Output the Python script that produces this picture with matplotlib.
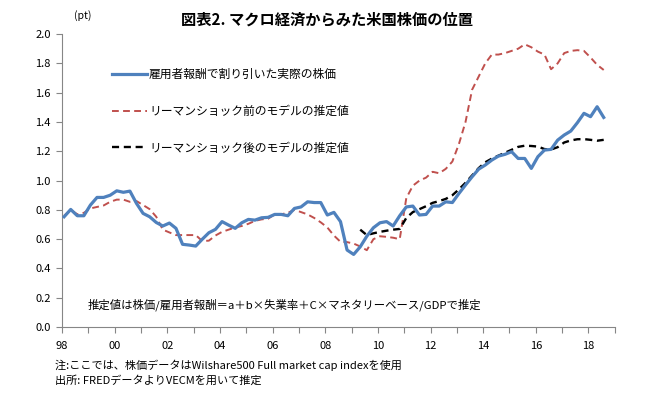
# 図表2: マクロ経済からみた米国株価の位置 (quarterly, 1998Q1-2018Q3)
import matplotlib; matplotlib.use("Agg")
import matplotlib.pyplot as plt
import matplotlib.transforms as mtransforms
import numpy as np

plt.rcParams["font.family"] = ["Noto Sans CJK JP", "DejaVu Sans"]

start_year = 1998.08
actual = [0.753, 0.803, 0.76, 0.76, 0.833, 0.885, 0.885, 0.90, 0.93, 0.92,
          0.928, 0.844, 0.776, 0.753, 0.714, 0.69, 0.71, 0.674, 0.565, 0.56,
          0.553, 0.60, 0.644, 0.667, 0.72, 0.696, 0.674, 0.712, 0.735, 0.73,
          0.746, 0.749, 0.769, 0.769, 0.76, 0.81, 0.82, 0.855, 0.85, 0.85,
          0.765, 0.783, 0.72, 0.526, 0.496, 0.548, 0.62, 0.678, 0.712, 0.72,
          0.69, 0.76, 0.82, 0.826, 0.765, 0.769, 0.826, 0.826, 0.855, 0.85,
          0.912, 0.97, 1.026, 1.078, 1.106, 1.14, 1.167, 1.179, 1.197, 1.151,
          1.151, 1.083, 1.163, 1.208, 1.213, 1.276, 1.311, 1.338, 1.395, 1.459,
          1.436, 1.504, 1.431]
pre_model = [0.76, 0.80, 0.77, 0.78, 0.81, 0.82, 0.83, 0.855, 0.87, 0.87,
             0.855, 0.86, 0.833, 0.805, 0.753, 0.665, 0.646, 0.628, 0.628, 0.628,
             0.628, 0.587, 0.59, 0.625, 0.65, 0.665, 0.68, 0.69, 0.705, 0.725,
             0.735, 0.74, 0.769, 0.77, 0.78, 0.80, 0.785, 0.769, 0.745, 0.715,
             0.68, 0.625, 0.582, 0.58, 0.57, 0.55, 0.525, 0.60, 0.62, 0.616,
             0.61, 0.60, 0.88, 0.965, 1.0, 1.02, 1.06, 1.05, 1.08, 1.13,
             1.25, 1.40, 1.62, 1.71, 1.80, 1.86, 1.86, 1.87, 1.885, 1.90,
             1.93, 1.91, 1.88, 1.86, 1.76, 1.80, 1.87, 1.885, 1.89, 1.885,
             1.84, 1.79, 1.755]
post_start = 45  # post-Lehman model starts at this quarter index
post_model = [0.665, 0.628, 0.64, 0.65, 0.658, 0.665, 0.67, 0.745, 0.785, 0.805,
              0.825, 0.848, 0.86, 0.875, 0.90, 0.94, 0.985, 1.035, 1.085, 1.125,
              1.15, 1.17, 1.19, 1.21, 1.23, 1.238, 1.236, 1.232, 1.215, 1.212,
              1.228, 1.26, 1.274, 1.282, 1.283, 1.278, 1.272, 1.278]
year_labels = ["98", "00", "02", "04", "06", "08", "10", "12", "14", "16", "18"]

t = start_year + 0.25 * np.arange(len(actual))
t_post = t[post_start:post_start + len(post_model)]

fig = plt.figure(figsize=(6.48, 3.96), dpi=100)
ax = fig.add_axes([0.0957, 0.174, 0.853, 0.74])

ax.plot(t, actual, color="#4F81BD", lw=2.3, label="雇用者報酬で割り引いた実際の株価", zorder=3)
ax.plot(t, pre_model, color="#C0504D", lw=1.4, ls=(0, (3.5, 2.2)), label="リーマンショック前のモデルの推定値")
ax.plot(t_post, post_model, color="black", lw=1.7, ls=(0, (3, 2)), label="リーマンショック後のモデルの推定値")

ax.set_xlim(1998, 2019)
ax.set_ylim(0, 2.0)
ax.set_yticks(np.arange(0, 2.01, 0.2))
ax.set_yticklabels([f"{v:.1f}" for v in np.arange(0, 2.01, 0.2)])
years = np.arange(1998, 2020)
ax.set_xticks(years)
ax.set_xticklabels([year_labels[(y - 1998) // 2] if (y - 1998) % 2 == 0 and (y - 1998) // 2 < len(year_labels) else "" for y in years])
off = mtransforms.ScaledTranslation(4 / 100, 0, fig.dpi_scale_trans)
for lab in ax.get_xticklabels():
    lab.set_transform(lab.get_transform() + off)

for s in ["top", "right"]:
    ax.spines[s].set_visible(False)
for s in ["left", "bottom"]:
    ax.spines[s].set_color("#868686")
ax.tick_params(axis="both", colors="#868686", labelcolor="black", labelsize=8, length=4, width=0.8)
ax.tick_params(axis="x", pad=6)
ax.tick_params(axis="y", pad=4)

ax.legend(loc="upper left", bbox_to_anchor=(0.072, 0.92), frameon=False, fontsize=8.5,
          handlelength=2.9, handletextpad=0.2, labelspacing=2.0)

ax.text(0.047, 0.075, "推定値は株価/雇用者報酬＝a＋b×失業率＋C×マネタリーベース/GDPで推定",
        transform=ax.transAxes, fontsize=8.2, va="center")

fig.text(0.505, 0.952, "図表2. マクロ経済からみた米国株価の位置", ha="center", va="center",
         fontsize=11, fontweight="bold")
fig.text(0.128, 0.962, "(pt)", ha="center", va="center", fontsize=7.5)
fig.text(0.085, 0.078, "注:ここでは、株価データはWilshare500 Full market cap indexを使用",
         fontsize=8, va="center")
fig.text(0.085, 0.038, "出所: FREDデータよりVECMを用いて推定", fontsize=8, va="center")

fig.savefig("out.png", dpi=100)
